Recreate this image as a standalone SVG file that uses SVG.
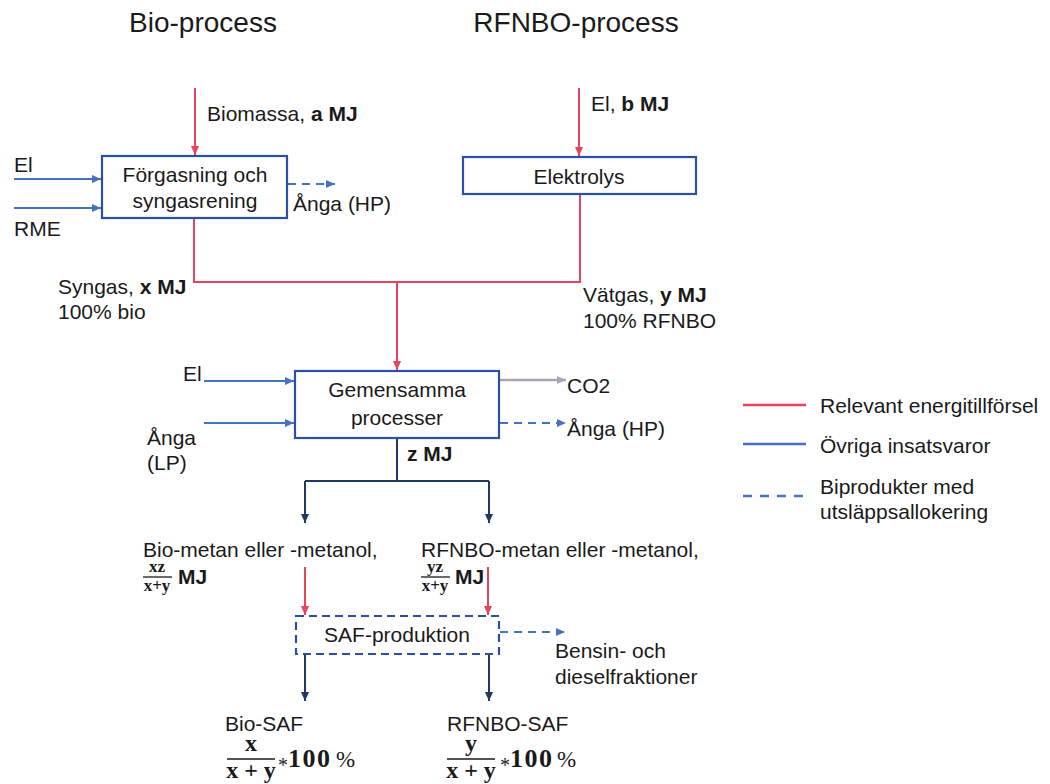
<svg xmlns="http://www.w3.org/2000/svg" width="1050" height="784" viewBox="0 0 1050 784">
<style>
text{font-family:"Liberation Sans",Arial,sans-serif;fill:#1a1a1a;font-size:21px}
.t{font-size:28px}
.b{font-weight:bold}
.c{text-anchor:middle}
.m{font-family:"Liberation Serif","DejaVu Serif",serif;font-weight:bold}
.f{font-size:17px}
.g{font-size:24px}
.h{font-size:26px;letter-spacing:1.5px}
.s{font-family:"Liberation Serif","DejaVu Serif",serif}
.box{fill:#fff;stroke:#2A4FA3;stroke-width:2.2}
.red{stroke:#E8425E;stroke-width:2;fill:none}
.blue{stroke:#4472C4;stroke-width:2;fill:none}
.dash{stroke:#4472C4;stroke-width:2;fill:none;stroke-dasharray:8,6}
.navy{stroke:#1F3864;stroke-width:2;fill:none}
.gray{stroke:#A5A8B4;stroke-width:2.5;fill:none}
.fl{stroke:#1a1a1a;stroke-width:1.3}
</style>
<defs>
<marker id="ar" markerWidth="10" markerHeight="10" refX="9" refY="5" orient="auto" markerUnits="userSpaceOnUse"><path d="M0,1 L9,5 L0,9 z" fill="#E8425E"/></marker>
<marker id="ab" markerWidth="10" markerHeight="10" refX="9" refY="5" orient="auto" markerUnits="userSpaceOnUse"><path d="M0,1 L9,5 L0,9 z" fill="#4472C4"/></marker>
<marker id="an" markerWidth="10" markerHeight="10" refX="9" refY="5" orient="auto" markerUnits="userSpaceOnUse"><path d="M0,1 L9,5 L0,9 z" fill="#1F3864"/></marker>
<marker id="ag" markerWidth="10" markerHeight="10" refX="9" refY="5" orient="auto" markerUnits="userSpaceOnUse"><path d="M0,1 L9,5 L0,9 z" fill="#A5A8B4"/></marker>
</defs>

<text class="t" x="203" y="32" text-anchor="middle">Bio-process</text>
<text class="t" x="576" y="32" text-anchor="middle">RFNBO-process</text>

<g id="connectors">
<line class="red" x1="195" y1="88" x2="195" y2="155" marker-end="url(#ar)"/>
<line class="red" x1="579" y1="88" x2="579" y2="156" marker-end="url(#ar)"/>
<line class="blue" x1="14" y1="179" x2="101" y2="179" marker-end="url(#ab)"/>
<line class="blue" x1="14" y1="208" x2="101" y2="208" marker-end="url(#ab)"/>
<line class="dash" x1="288" y1="184" x2="335" y2="184" marker-end="url(#ab)"/>
<polyline class="red" points="194,219 194,282 580,282 580,194"/>
<line class="red" x1="397" y1="282" x2="397" y2="370" marker-end="url(#ar)"/>
<line class="blue" x1="204" y1="381" x2="294" y2="381" marker-end="url(#ab)"/>
<line class="blue" x1="204" y1="423" x2="294" y2="423" marker-end="url(#ab)"/>
<line class="gray" x1="500" y1="380" x2="566" y2="380" marker-end="url(#ag)"/>
<line class="dash" x1="500" y1="423" x2="566" y2="423" marker-end="url(#ab)"/>
<line class="navy" x1="397" y1="439" x2="397" y2="481"/>
<polyline class="navy" points="305,481 489,481"/>
<line class="navy" x1="305" y1="481" x2="305" y2="523" marker-end="url(#an)"/>
<line class="navy" x1="489" y1="481" x2="489" y2="523" marker-end="url(#an)"/>
<line class="red" x1="305" y1="567" x2="305" y2="615" marker-end="url(#ar)"/>
<line class="red" x1="488" y1="567" x2="488" y2="615" marker-end="url(#ar)"/>
<line class="dash" x1="500" y1="632" x2="565" y2="632" marker-end="url(#ab)"/>
<line class="navy" x1="305" y1="655" x2="305" y2="701" marker-end="url(#an)"/>
<line class="navy" x1="489" y1="655" x2="489" y2="701" marker-end="url(#an)"/>
</g>

<g id="n-forgasning">
<rect class="box" x="102" y="156" width="185" height="62"/>
<text class="c" x="195" y="182">Förgasning och</text>
<text class="c" x="195" y="208">syngasrening</text>
</g>
<g id="n-elektrolys">
<rect class="box" x="463" y="157" width="233" height="37"/>
<text class="c" x="579" y="184">Elektrolys</text>
</g>
<g id="n-gemensamma">
<rect class="box" x="295" y="371" width="204" height="67"/>
<text class="c" x="397" y="397">Gemensamma</text>
<text class="c" x="397" y="425">processer</text>
</g>
<g id="n-saf">
<rect class="box" x="296" y="616" width="203" height="38" style="stroke-dasharray:8,5"/>
<text class="c" x="397" y="642">SAF-produktion</text>
</g>

<g id="labels">
<text x="207" y="121">Biomassa, <tspan class="b">a MJ</tspan></text>
<text x="591" y="111">El, <tspan class="b">b MJ</tspan></text>
<text x="14" y="172">El</text>
<text x="14" y="236">RME</text>
<text x="293" y="211">Ånga (HP)</text>
<text x="58" y="294">Syngas, <tspan class="b">x MJ</tspan></text>
<text x="58" y="319">100% bio</text>
<text x="583" y="302">Vätgas, <tspan class="b">y MJ</tspan></text>
<text x="583" y="328">100% RFNBO</text>
<text x="183" y="381">El</text>
<text x="147" y="445">Ånga</text>
<text x="147" y="470">(LP)</text>
<text x="567" y="393">CO2</text>
<text x="567" y="436">Ånga (HP)</text>
<text class="b" x="407" y="461">z MJ</text>
<text x="143" y="557">Bio-metan eller -metanol,</text>
<text class="m c f" x="157" y="572">xz</text>
<line class="fl" x1="143" y1="577" x2="172" y2="577"/>
<text class="m c f" x="157" y="591">x+y</text>
<text class="b" x="178" y="584">MJ</text>
<text x="421" y="557">RFNBO-metan eller -metanol,</text>
<text class="m c f" x="435" y="572">yz</text>
<line class="fl" x1="421" y1="577" x2="450" y2="577"/>
<text class="m c f" x="435" y="591">x+y</text>
<text class="b" x="455" y="584">MJ</text>
<text x="555" y="658">Bensin- och</text>
<text x="555" y="684">dieselfraktioner</text>
<text x="225" y="731">Bio-SAF</text>
<text class="m c g" x="251" y="751">x</text>
<line class="fl" x1="227" y1="759" x2="275" y2="759"/>
<text class="m c g" x="251" y="778">x + y</text>
<text class="s" x="278" y="772" style="font-size:20px">*</text>
<text class="m h" x="288" y="767">100</text>
<text class="s" x="336" y="767" style="font-size:23px">%</text>
<text x="447" y="731">RFNBO-SAF</text>
<text class="m c g" x="471" y="751">y</text>
<line class="fl" x1="447" y1="759" x2="495" y2="759"/>
<text class="m c g" x="471" y="778">x + y</text>
<text class="s" x="500" y="772" style="font-size:20px">*</text>
<text class="m h" x="510" y="767">100</text>
<text class="s" x="557" y="767" style="font-size:23px">%</text>
</g>

<g id="legend">
<line class="red" x1="743" y1="405" x2="806" y2="405" style="stroke-width:2.5"/>
<text x="820" y="413">Relevant energitillförsel</text>
<line class="blue" x1="743" y1="444" x2="806" y2="444" style="stroke-width:2.5"/>
<text x="820" y="453">Övriga insatsvaror</text>
<line class="dash" x1="743" y1="496" x2="806" y2="496" style="stroke-width:2.5;stroke-dasharray:9,8"/>
<text x="820" y="494">Biprodukter med</text>
<text x="820" y="519">utsläppsallokering</text>
</g>
</svg>
